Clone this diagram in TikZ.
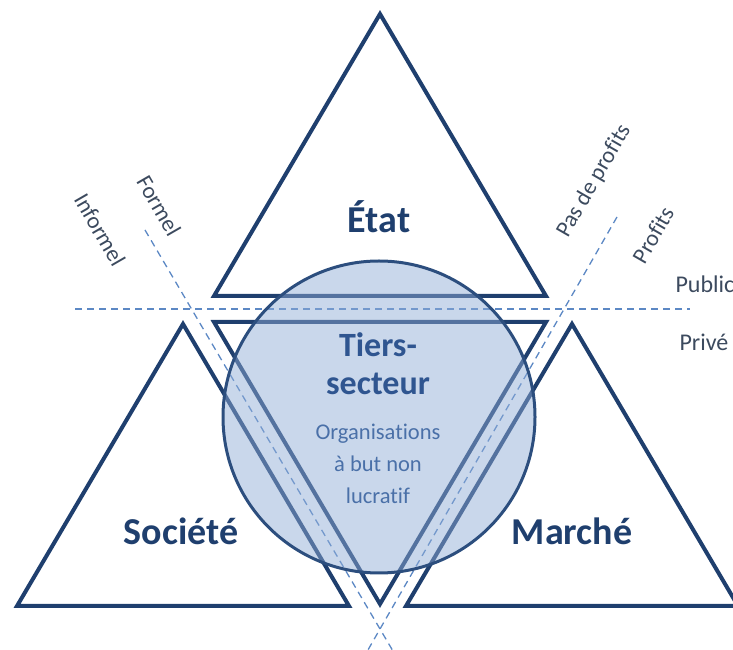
\documentclass[tikz,border=0pt]{standalone}
\usepackage{fontspec}
\setmainfont{Carlito}[Ligatures=NoCommon]
\usetikzlibrary{calc}
\definecolor{TSNavy}{HTML}{1F3F6E}
\definecolor{TSRing}{HTML}{2C4E7E}
\definecolor{TSFill}{HTML}{8EABD5}
\definecolor{TSDash}{HTML}{5C88C4}
\definecolor{TSMid}{HTML}{2F5590}
\definecolor{TSSoft}{HTML}{4A70A8}
\definecolor{TSGrey}{HTML}{3C4A5E}
\tikzset{
  tri/.style={draw=TSNavy,line width=4pt,line join=miter},
  ring/.style={draw=TSRing,line width=3pt,fill=TSFill,fill opacity=.48},
  sep/.style={draw=TSDash,line width=1.3pt,dash pattern=on 7pt off 5pt},
  pole/.style={text=TSNavy,font=\fontsize{38}{44}\selectfont\bfseries,anchor=base},
  sector/.style={text=TSMid,font=\fontsize{34}{40}\selectfont\bfseries,anchor=base},
  note/.style={text=TSSoft,font=\fontsize{22.5}{32}\selectfont,anchor=base},
  axis/.style={text=TSGrey,font=\fontsize{23}{27}\selectfont},
  side/.style={axis,font=\fontsize{24}{28}\selectfont,anchor=base west},
}

\begin{document}
\begin{tikzpicture}[x=1pt,y=1pt]
  \useasboundingbox (0,0) rectangle (733,650);
  \clip (0,0) rectangle (733,650);

  % the four triangles
  \draw[tri] (380,636) -- (546,354) -- (214,354) -- cycle;
  \draw[tri] (214,328) -- (546,328) -- (380,46) -- cycle;
  \draw[tri] (183,326) -- (349,44) -- (17,44) -- cycle;
  \draw[tri] (572,326) -- (738,44) -- (406,44) -- cycle;

  % dividing lines
  \coordinate (cross) at (380,21);
  \coordinate (formA) at (145,420);
  \coordinate (profA) at (617,433);
  \draw[sep] (75,341) -- (690,341);
  \draw[sep] (formA) -- (cross) -- ($(formA)!1.06!(cross)$);
  \draw[sep] (profA) -- (cross) -- ($(profA)!1.06!(cross)$);

  \node[ring,circle,minimum size=312pt,inner sep=0pt] (tiers) at (379,233) {};

  \node[pole] (etat) at (379,417) {État};
  \node[pole] (societe) at (181,105) {Société};
  \node[pole] (marche) at (572,105) {Marché};

  \node[sector] (tiersA) at (378,293) {Tiers-};
  \node[sector] (tiersB) at (378,255) {secteur};
  \node[note] (orgA) at (378,210) {Organisations};
  \node[note] (orgB) at (378,178) {à but non};
  \node[note] (orgC) at (378,146) {lucratif};

  \node[axis,rotate=-60] (informel) at (100,420) {Informel};
  \node[axis,rotate=-60] (formel) at (159,444) {Formel};
  \node[axis,rotate=60] (pasprofits) at (594,469) {Pas de profits};
  \node[axis,rotate=60] (profits) at (653,415) {Profits};
  \node[side] (public) at (672,357) {Public};
  \node[side] (prive) at (676,299) {Privé};
\end{tikzpicture}
\end{document}
